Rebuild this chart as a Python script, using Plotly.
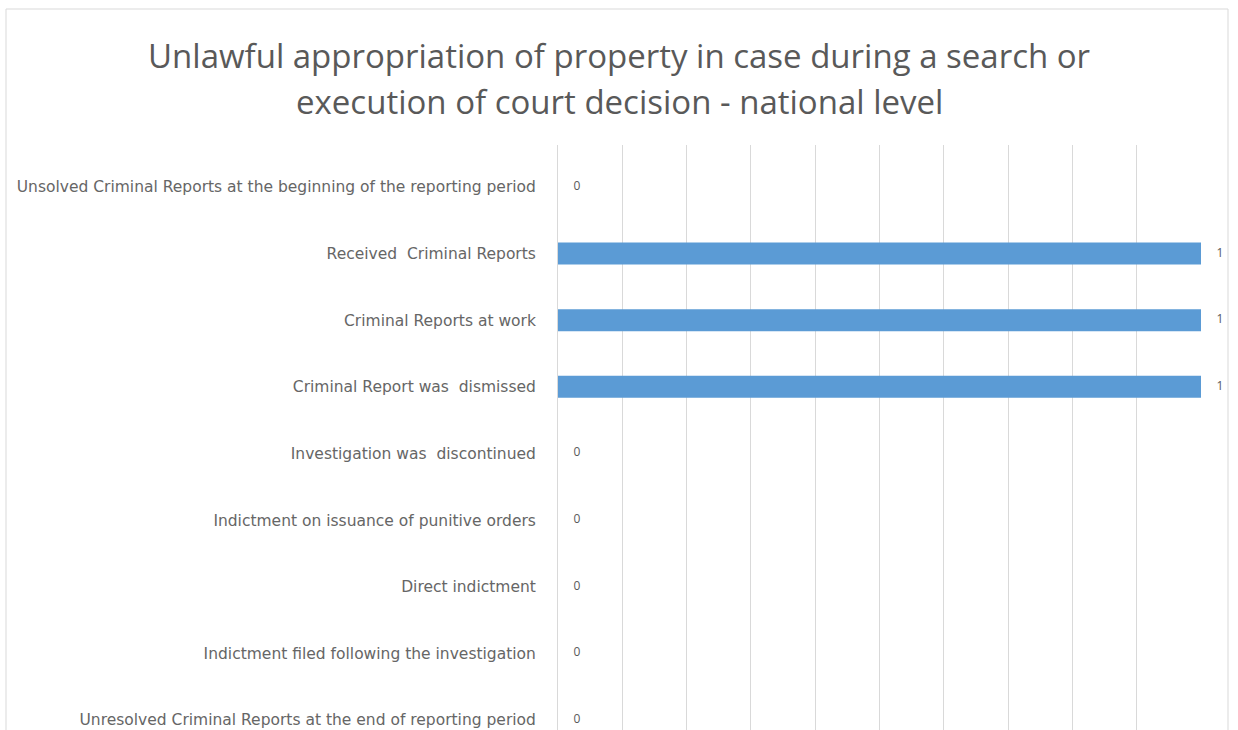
import plotly.graph_objects as go

categories = [
    "Unsolved Criminal Reports at the beginning of the reporting period",
    "Received  Criminal Reports",
    "Criminal Reports at work",
    "Criminal Report was  dismissed",
    "Investigation was  discontinued",
    "Indictment on issuance of punitive orders",
    "Direct indictment",
    "Indictment filed following the investigation",
    "Unresolved Criminal Reports at the end of reporting period",
]
values = [0, 1, 1, 1, 0, 0, 0, 0, 0]
title_lines = [
    "Unlawful appropriation of property in case during a search or",
    "execution of court decision - national level",
]

W, H = 1238, 730
ML, MR, MT, MB = 558, 37, 145, 0
FONT = "Open Sans"
GRAY = "#595959"

fig = go.Figure()
fig.add_trace(go.Bar(
    x=values, y=categories, orientation="h",
    width=0.33,
    marker=dict(color="#5b9bd5", line=dict(width=0)),
    hoverinfo="skip",
))
# value labels placed just past the end of each bar
fig.add_trace(go.Scatter(
    x=values, y=categories, mode="text",
    text=["     " + f"{v}" for v in values],
    textposition="middle right",
    textfont=dict(family=FONT, size=12, color=GRAY),
    cliponaxis=False, hoverinfo="skip",
))

plot_h = H - MT - MB
for i, line in enumerate(title_lines):
    y_px = 55 + 46 * i
    fig.add_annotation(
        text=line, xref="paper", yref="paper",
        x=(W / 2 - ML) / (W - ML - MR), y=1 + (MT - y_px) / plot_h,
        showarrow=False, xanchor="center", yanchor="middle",
        font=dict(family=FONT, size=33, color=GRAY),
    )

# chart frame
fig.add_shape(
    type="rect", xref="paper", yref="paper",
    x0=(6 - ML) / (W - ML - MR), x1=(1228 - ML) / (W - ML - MR),
    y0=-0.2, y1=1 + (MT - 9) / plot_h,
    line=dict(color="#d9d9d9", width=1), fillcolor="rgba(0,0,0,0)",
    layer="below",
)

fig.update_layout(
    width=W, height=H,
    margin=dict(l=ML, r=MR, t=MT, b=MB),
    paper_bgcolor="white", plot_bgcolor="white",
    showlegend=False,
    font=dict(family=FONT, color=GRAY),
    xaxis=dict(
        range=[0, 1], dtick=0.1, showgrid=True, gridcolor="#d9d9d9",
        gridwidth=1, zeroline=False, showticklabels=False,
        showline=False, fixedrange=True,
    ),
    yaxis=dict(
        categoryorder="array", categoryarray=categories,
        range=[8.15, -0.63], showgrid=False, zeroline=False,
        showline=True, linecolor="#d9d9d9", linewidth=1,
        ticks="", ticklabelstandoff=18,
        tickfont=dict(family="DejaVu Sans", size=15.5, color="#666666"),
    ),
)

fig.write_html("out.html")
